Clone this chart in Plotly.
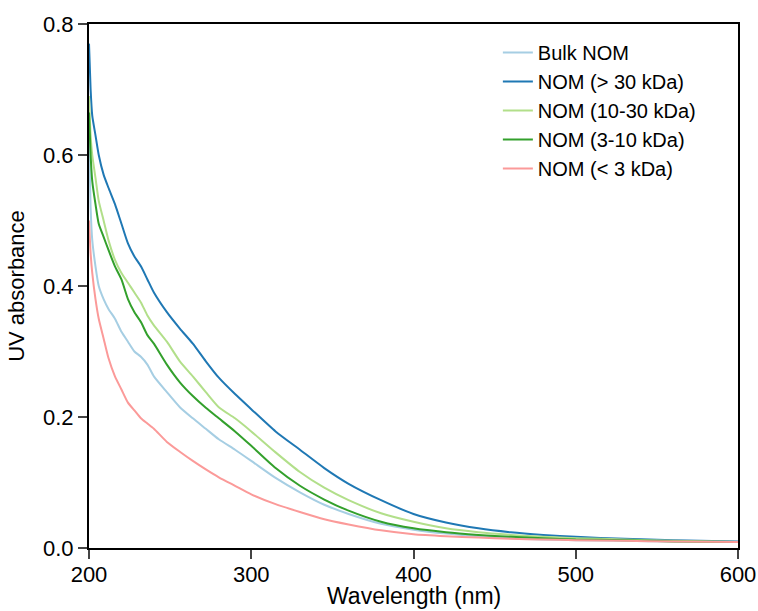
import plotly.graph_objects as go

wavelength = [200, 201, 202, 204, 206, 209, 212, 216, 220, 224, 228, 232, 236, 240,
              248, 256, 264, 272, 280, 290, 300, 315, 330, 345, 360, 380, 400, 420,
              440, 460, 480, 500, 530, 560, 600]

bulk_nom = [0.63, 0.52, 0.47, 0.43, 0.40, 0.38, 0.365, 0.35, 0.33, 0.315, 0.30, 0.292,
            0.28, 0.262, 0.238, 0.215, 0.198, 0.182, 0.166, 0.15, 0.133, 0.107, 0.085,
            0.066, 0.052, 0.037, 0.028, 0.022, 0.018, 0.015, 0.013, 0.012, 0.011, 0.010, 0.009]

nom_gt30 = [0.77, 0.70, 0.66, 0.63, 0.60, 0.57, 0.55, 0.525, 0.495, 0.465, 0.445, 0.43,
            0.41, 0.39, 0.36, 0.335, 0.312, 0.285, 0.26, 0.235, 0.212, 0.178, 0.150,
            0.122, 0.098, 0.073, 0.052, 0.039, 0.030, 0.024, 0.020, 0.017, 0.014, 0.012, 0.010]

nom_10_30 = [0.69, 0.63, 0.60, 0.565, 0.53, 0.50, 0.47, 0.44, 0.42, 0.405, 0.39, 0.375,
             0.355, 0.34, 0.315, 0.285, 0.262, 0.238, 0.215, 0.198, 0.178, 0.146, 0.116,
             0.092, 0.073, 0.053, 0.040, 0.030, 0.024, 0.020, 0.017, 0.015, 0.013, 0.011, 0.009]

nom_3_10 = [0.665, 0.60, 0.56, 0.525, 0.495, 0.475, 0.455, 0.43, 0.41, 0.38, 0.36, 0.345,
            0.325, 0.312, 0.28, 0.253, 0.232, 0.214, 0.198, 0.178, 0.156, 0.122, 0.095,
            0.074, 0.057, 0.040, 0.030, 0.024, 0.020, 0.017, 0.015, 0.013, 0.012, 0.010, 0.009]

nom_lt3 = [0.50, 0.45, 0.42, 0.38, 0.35, 0.32, 0.29, 0.262, 0.242, 0.222, 0.21, 0.198,
           0.19, 0.182, 0.162, 0.147, 0.133, 0.12, 0.108, 0.095, 0.082, 0.067, 0.055,
           0.044, 0.036, 0.027, 0.021, 0.018, 0.016, 0.014, 0.013, 0.012, 0.011, 0.010, 0.009]

series_names = ["Bulk NOM", "NOM (> 30 kDa)", "NOM (10-30 kDa)", "NOM (3-10 kDa)", "NOM (< 3 kDa)"]
series_values = [bulk_nom, nom_gt30, nom_10_30, nom_3_10, nom_lt3]
series_colors = ["#a6cee3", "#1f78b4", "#b2df8a", "#33a02c", "#fb9a99"]

x_ticks = [200, 300, 400, 500, 600]
y_ticks = [0.0, 0.2, 0.4, 0.6, 0.8]
y_tick_labels = ["0.0", "0.2", "0.4", "0.6", "0.8"]

fig = go.Figure()
for name, vals, col in zip(series_names, series_values, series_colors):
    fig.add_trace(go.Scatter(x=wavelength, y=vals, mode="lines", name=name,
                             line=dict(color=col, width=2, shape="spline", smoothing=0.6)))

font_family = "Liberation Sans, Arial, sans-serif"
fig.update_layout(
    width=758, height=611,
    margin=dict(l=89, r=20, t=24, b=63),
    paper_bgcolor="white", plot_bgcolor="white",
    font=dict(family=font_family, color="black", size=22),
    showlegend=True,
    legend=dict(x=0.63, y=0.983, xanchor="left", yanchor="top",
                bgcolor="rgba(0,0,0,0)", font=dict(size=20, family=font_family),
                tracegroupgap=0),
    xaxis=dict(range=[200, 600], tickvals=x_ticks, ticks="outside", ticklen=9,
               tickwidth=2, showline=True, linewidth=2, linecolor="black",
               mirror=True, showgrid=False, zeroline=False, automargin=False,
               ticklabelstandoff=-3, tickfont=dict(size=22)),
    yaxis=dict(range=[0, 0.8], tickvals=y_ticks, ticktext=y_tick_labels,
               ticks="outside", ticklen=9, tickwidth=2, showline=True, linewidth=2,
               linecolor="black", mirror=True, showgrid=False, zeroline=False,
               automargin=False,
               title=dict(text="UV absorbance", font=dict(size=22), standoff=12),
               tickfont=dict(size=22)),
    annotations=[dict(text="Wavelength (nm)", xref="paper", yref="paper",
                      x=0.5, y=-63 / 524, xanchor="center", yanchor="bottom",
                      showarrow=False, font=dict(size=23, family=font_family))],
)

fig.write_html("out.html")
